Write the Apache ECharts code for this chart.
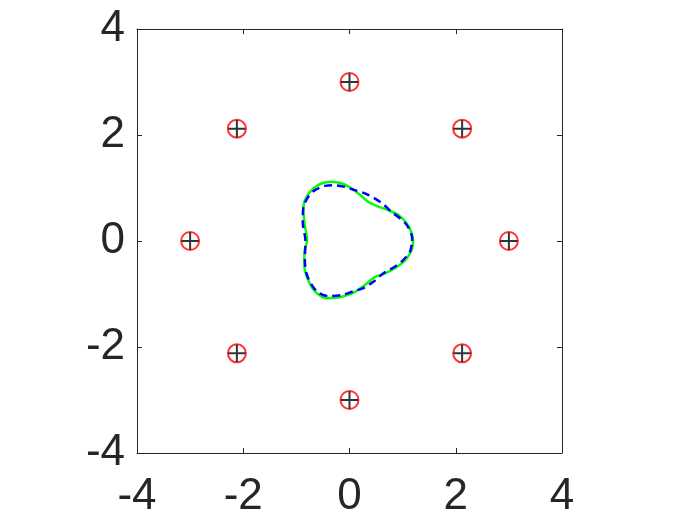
<!DOCTYPE html>
<html>
<head>
<meta charset="utf-8">
<script src="https://cdn.jsdelivr.net/npm/echarts@6/dist/echarts.min.js"></script>
<style>html,body{margin:0;padding:0;background:#fff;}#c{width:700px;height:525px;}</style>
</head>
<body>
<div id="c"></div>
<script>
// Tick values
var xTicks = [-4, -2, 0, 2, 4];
var yTicks = [-4, -2, 0, 2, 4];

// Points on the outer ring (red circles + black plus)
var ringX = [3, 2.12, 0, -2.12, -3, -2.12, 0, 2.12];
var ringY = [0, 2.12, 3, 2.12, 0, -2.12, -3, -2.12];

// Green solid closed curve (traced)
var greenX = [1.20, 1.17, 1.08, 0.92, 0.73, 0.54, 0.35, 0.20, 0.04, -0.15, -0.34, -0.52, -0.68, -0.81, -0.87, -0.85, -0.80,
              -0.85, -0.85, -0.78, -0.65, -0.43, -0.18, 0.07, 0.29, 0.48, 0.67, 0.86, 1.05, 1.17, 1.20];
var greenY = [0.00, 0.15, 0.33, 0.49, 0.58, 0.65, 0.74, 0.87, 0.99, 1.09, 1.12, 1.09, 0.99, 0.83, 0.62, 0.36, 0.01,
              -0.23, -0.48, -0.73, -0.95, -1.08, -1.06, -0.98, -0.83, -0.68, -0.61, -0.51, -0.36, -0.17, 0.00];

// Blue dashed closed curve (traced)
var blueX = [1.18, 1.17, 1.08, 0.95, 0.79, 0.64, 0.48, 0.29, 0.10, -0.08, -0.27, -0.46, -0.65, -0.78, -0.87, -0.88, -0.83,
             -0.84, -0.81, -0.71, -0.59, -0.40, -0.15, 0.07, 0.26, 0.45, 0.64, 0.86, 1.01, 1.14, 1.18];
var blueY = [0.00, 0.11, 0.30, 0.43, 0.55, 0.69, 0.80, 0.90, 0.96, 1.02, 1.05, 1.04, 0.96, 0.83, 0.62, 0.36, 0.00,
             -0.36, -0.61, -0.83, -0.97, -1.04, -1.02, -0.95, -0.89, -0.77, -0.61, -0.48, -0.36, -0.20, 0.00];

function pairs(xs, ys) { return xs.map(function (x, i) { return [x, ys[i]]; }); }

var axisColor = '#262626';
var labelStyle = { color: '#262626', fontSize: 44, fontFamily: 'Liberation Sans, Arial, sans-serif' };

function mkAxis(pos, showLabel, margin) {
  return {
    type: 'value', position: pos, min: -4, max: 4, interval: 2,
    axisLine: { show: true, onZero: false, lineStyle: { color: axisColor, width: 1 } },
    axisTick: { show: true, inside: true, length: 5, lineStyle: { color: axisColor, width: 1 } },
    splitLine: { show: false },
    axisLabel: Object.assign({ show: showLabel, margin: margin }, labelStyle)
  };
}

var chart = echarts.init(document.getElementById('c'), null, { renderer: 'canvas' });
chart.setOption({
  animation: false,
  backgroundColor: '#ffffff',
  grid: { left: 137, top: 29, width: 425, height: 424, containLabel: false },
  xAxis: [mkAxis('bottom', true, 22), mkAxis('top', false, 8)],
  yAxis: [mkAxis('left', true, 12), mkAxis('right', false, 8)],
  series: [
    {
      type: 'line', data: pairs(greenX, greenY), xAxisIndex: 0, yAxisIndex: 0,
      showSymbol: false, smooth: 0.3, lineStyle: { color: '#00ff00', width: 2.5 }, z: 2
    },
    {
      type: 'line', data: pairs(blueX, blueY), xAxisIndex: 0, yAxisIndex: 0,
      showSymbol: false, smooth: 0.3, lineStyle: { color: '#0000ff', width: 2.5, type: [8, 5] }, z: 3
    },
    {
      type: 'scatter', data: pairs(ringX, ringY), symbol: 'circle', symbolSize: 18,
      itemStyle: { color: 'rgba(0,0,0,0)', borderColor: '#ff0000', borderWidth: 2 }, z: 4
    },
    {
      type: 'scatter', data: pairs(ringX, ringY), symbol: 'path://M0,-10L0,10M-10,0L10,0', symbolSize: 17,
      itemStyle: { color: 'none', borderColor: '#000000', borderWidth: 2 }, z: 5
    }
  ]
});
</script>
</body>
</html>
